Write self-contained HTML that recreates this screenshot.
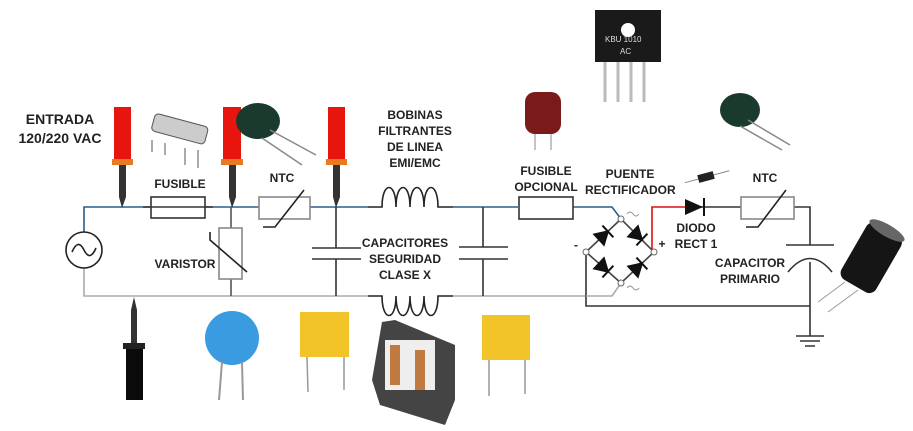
<!DOCTYPE html>
<html><head><meta charset="utf-8"><style>
body{margin:0;background:#fff;width:913px;height:431px;overflow:hidden;position:relative;font-family:"Liberation Sans",sans-serif}
.t{position:absolute;font-weight:bold;font-size:12px;color:#222;text-align:center;line-height:16px}
</style></head><body>
<svg width="913" height="431" style="position:absolute;left:0;top:0">
<g fill="none" stroke-width="1.6">
<path d="M84 232 V207 H151 M205 207 H259 M310 207 H368 M453 207 H518 M573 207 H612 L621 219" stroke="#2a5d8a"/>
<path d="M84 268 V296 H368 M453 296 H586" stroke="#aaa"/>
<circle cx="84" cy="250" r="18" stroke="#222"/>
<path d="M72 252 Q78 238 84 250 T96 248" stroke="#222"/>
<rect x="151" y="197" width="54" height="21" stroke="#333"/>
<path d="M143 207 H213" stroke="#333"/>
<path d="M231 207 V228 M231 279 V296" stroke="#555"/>
<rect x="219" y="228" width="23" height="51" stroke="#888"/>
<path d="M210 232 V240 L247 272" stroke="#222"/>
<rect x="259" y="197" width="51" height="22" stroke="#888"/>
<path d="M263 227 H275 L304 190" stroke="#222"/>
<path d="M336 207 V248 M336 259 V296 M312 248 H361 M312 259 H361" stroke="#333"/>
<path d="M368 207 H382 c0 -26 14 -26 14 0 c0 -26 14 -26 14 0 c0 -26 14 -26 14 0 c0 -26 14 -26 14 0 H453" stroke="#222"/>
<path d="M368 296 H382 c0 26 14 26 14 0 c0 26 14 26 14 0 c0 26 14 26 14 0 c0 26 14 26 14 0 H453" stroke="#222"/>
<path d="M483 207 V247 M483 259 V296 M459 247 H508 M459 259 H508" stroke="#333"/>
<rect x="519" y="197" width="54" height="22" stroke="#333"/>
<path d="M621 219 L586 252 L621 283 L654 252 Z" stroke="#444"/>
<path d="M586 252 V306 H810" stroke="#333"/>
<path d="M586 296 H612 L621 283" stroke="#aaa"/>
<path d="M652 252 V207 H685" stroke="#d11"/>
<path d="M685 207 H741 M794 207 H810 V245 M810 262 V336" stroke="#333"/>
<path d="M786 245 H834 M788 272 Q810 245 832 272" stroke="#333"/>
<path d="M796 336 H824 M800 341 H820 M805 346 H815" stroke="#333"/>
<rect x="741" y="197" width="53" height="22" stroke="#888"/>
<path d="M746 227 H758 L786 190" stroke="#222"/>
</g>
<g fill="#111" stroke="#111" stroke-width="2">
<g transform="translate(603.5 235.5) rotate(-43)"><polygon points="-6,-7 -6,7 6,0"/><line x1="6" y1="-8" x2="6" y2="8"/></g>
<g transform="translate(637.5 235.5) rotate(43)"><polygon points="-6,-7 -6,7 6,0"/><line x1="6" y1="-8" x2="6" y2="8"/></g>
<g transform="translate(603.5 267.5) rotate(43)"><polygon points="-6,-7 -6,7 6,0"/><line x1="6" y1="-8" x2="6" y2="8"/></g>
<g transform="translate(637.5 267.5) rotate(-43)"><polygon points="-6,-7 -6,7 6,0"/><line x1="6" y1="-8" x2="6" y2="8"/></g>
</g>
<g fill="#fff" stroke="#666"><circle cx="621" cy="219" r="3"/><circle cx="586" cy="252" r="3"/><circle cx="654" cy="252" r="3"/><circle cx="621" cy="283" r="3"/></g>
<g fill="none" stroke="#999"><path d="M627 214 q3 -4 6 0 t6 0"/><path d="M627 288 q3 -4 6 0 t6 0"/></g>
<g fill="#111"><polygon points="685,199 685,215 703,207"/><rect x="703" y="198" width="2" height="18"/></g>
<g>
<rect x="114" y="107" width="17" height="53" fill="#e8140e"/><rect x="112" y="159" width="21" height="6" fill="#e87a20"/><rect x="119" y="165" width="7" height="32" fill="#333"/><polygon points="119,197 126,197 122,208" fill="#333"/>
<rect x="223" y="107" width="18" height="53" fill="#e8140e"/><rect x="221" y="159" width="22" height="6" fill="#e87a20"/><rect x="229" y="165" width="7" height="32" fill="#333"/><polygon points="229,197 236,197 232,208" fill="#333"/>
<rect x="328" y="107" width="17" height="53" fill="#e8140e"/><rect x="326" y="159" width="21" height="6" fill="#e87a20"/><rect x="333" y="165" width="7" height="32" fill="#333"/><polygon points="333,197 340,197 336,208" fill="#333"/>
<polygon points="134,297 131,310 131,343 137,343 137,310" fill="#333"/><rect x="123" y="343" width="22" height="6" fill="#222"/><rect x="126" y="349" width="17" height="51" fill="#0a0a0a"/>
</g>
<g fill="#888" stroke="#555"><rect x="152" y="120" width="55" height="18" rx="4" transform="rotate(15 180 130)" fill="#ccc"/><line x1="152" y1="140" x2="152" y2="152"/><line x1="165" y1="143" x2="165" y2="155"/><line x1="185" y1="148" x2="185" y2="165"/><line x1="198" y1="150" x2="198" y2="168"/></g>
<ellipse cx="258" cy="121" rx="22" ry="18" fill="#1a3a2e"/><line x1="270" y1="130" x2="316" y2="155" stroke="#888" stroke-width="1.5"/><line x1="262" y1="138" x2="302" y2="165" stroke="#888" stroke-width="1.5"/>
<ellipse cx="740" cy="110" rx="20" ry="17" fill="#1a3a2e"/><line x1="748" y1="120" x2="790" y2="145" stroke="#888" stroke-width="1.5"/><line x1="740" y1="126" x2="782" y2="150" stroke="#888" stroke-width="1.5"/>
<rect x="525" y="92" width="36" height="42" rx="10" fill="#7a1a1a"/><line x1="535" y1="134" x2="535" y2="150" stroke="#888"/><line x1="551" y1="134" x2="551" y2="150" stroke="#888"/>
<rect x="595" y="10" width="66" height="52" fill="#1a1a1a"/><circle cx="628" cy="30" r="7" fill="#fff"/>
<text x="605" y="42" fill="#ddd" font-size="8" font-family="Liberation Sans">KBU 1010</text><text x="620" y="54" fill="#ddd" font-size="8" font-family="Liberation Sans">AC</text>
<g stroke="#bbb" stroke-width="3"><line x1="605" y1="62" x2="605" y2="102"/><line x1="618" y1="62" x2="618" y2="102"/><line x1="631" y1="62" x2="631" y2="102"/><line x1="644" y1="62" x2="644" y2="102"/></g>
<g transform="rotate(-15 706 177)"><line x1="684" y1="177" x2="730" y2="177" stroke="#888"/><rect x="698" y="173" width="16" height="8" fill="#222"/></g>
<g transform="rotate(30 870 260)"><rect x="850" y="225" width="40" height="65" rx="8" fill="#151515"/><ellipse cx="870" cy="226" rx="20" ry="6" fill="#666"/></g>
<line x1="845" y1="282" x2="818" y2="302" stroke="#999"/><line x1="858" y1="290" x2="828" y2="312" stroke="#999"/>
<circle cx="232" cy="338" r="27" fill="#3a9be0"/><line x1="222" y1="362" x2="219" y2="400" stroke="#999" stroke-width="2"/><line x1="242" y1="362" x2="243" y2="400" stroke="#999" stroke-width="2"/>
<rect x="300" y="312" width="49" height="45" fill="#f2c42a"/><line x1="307" y1="357" x2="308" y2="392" stroke="#999" stroke-width="1.5"/><line x1="344" y1="357" x2="344" y2="390" stroke="#999" stroke-width="1.5"/>
<rect x="482" y="315" width="48" height="45" fill="#f2c42a"/><line x1="489" y1="360" x2="489" y2="396" stroke="#999" stroke-width="1.5"/><line x1="525" y1="360" x2="525" y2="394" stroke="#999" stroke-width="1.5"/>
<polygon points="382,322 395,320 455,345 455,400 445,425 380,405 372,380" fill="#444"/>
<rect x="385" y="340" width="50" height="50" fill="#eee"/><rect x="390" y="345" width="10" height="40" fill="#c07a40"/><rect x="415" y="350" width="10" height="40" fill="#c07a40"/>
</svg>
<div class="t" style="left:5px;top:110px;font-size:14px;line-height:19px;width:110px">ENTRADA<br>120/220 VAC</div>
<div class="t" style="left:150px;top:176px;width:60px">FUSIBLE</div>
<div class="t" style="left:262px;top:170px;width:40px">NTC</div>
<div class="t" style="left:150px;top:256px;width:70px">VARISTOR</div>
<div class="t" style="left:370px;top:107px;width:90px">BOBINAS<br>FILTRANTES<br>DE LINEA<br>EMI/EMC</div>
<div class="t" style="left:360px;top:235px;width:90px">CAPACITORES<br>SEGURIDAD<br>CLASE X</div>
<div class="t" style="left:508px;top:163px;width:76px">FUSIBLE<br>OPCIONAL</div>
<div class="t" style="left:585px;top:166px;width:90px">PUENTE<br>RECTIFICADOR</div>
<div class="t" style="left:570px;top:237px;width:12px">-</div>
<div class="t" style="left:655px;top:236px;width:14px">+</div>
<div class="t" style="left:668px;top:220px;width:56px">DIODO<br>RECT 1</div>
<div class="t" style="left:745px;top:170px;width:40px">NTC</div>
<div class="t" style="left:705px;top:255px;width:90px">CAPACITOR<br>PRIMARIO</div>
</body></html>
